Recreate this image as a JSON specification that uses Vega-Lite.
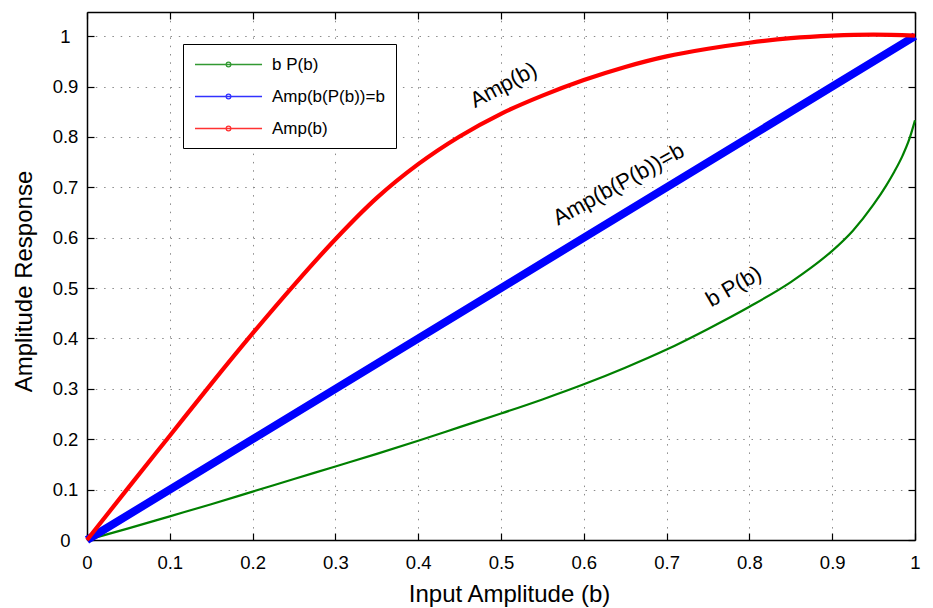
{
  "$schema": "https://vega.github.io/schema/vega-lite/v6.json",
  "width": 828,
  "height": 528,
  "autosize": {"type": "none"},
  "padding": {"left": 87, "top": 12, "right": 18, "bottom": 68},
  "background": "white",
  "config": {
    "view": {"stroke": null},
    "font": "Liberation Sans",
    "axis": {
      "labelFont": "Liberation Sans",
      "labelFontSize": 18.5,
      "labelColor": "black",
      "titleFont": "Liberation Sans",
      "titleFontSize": 24,
      "titleFontWeight": "normal",
      "titleColor": "black",
      "domainColor": "black",
      "domainWidth": 1.5,
      "tickColor": "black",
      "tickWidth": 1.2,
      "gridColor": "#8a8a8a",
      "gridDash": [1.5, 6.8],
      "gridWidth": 1
    }
  },
  "datasets": {
    "curves": [
      {"b": 0, "amp": 0, "series": "b P(b)"},
      {"b": 0.05, "amp": 0.023, "series": "b P(b)"},
      {"b": 0.1, "amp": 0.047, "series": "b P(b)"},
      {"b": 0.15, "amp": 0.071, "series": "b P(b)"},
      {"b": 0.2, "amp": 0.096, "series": "b P(b)"},
      {"b": 0.25, "amp": 0.121, "series": "b P(b)"},
      {"b": 0.3, "amp": 0.146, "series": "b P(b)"},
      {"b": 0.35, "amp": 0.171, "series": "b P(b)"},
      {"b": 0.4, "amp": 0.197, "series": "b P(b)"},
      {"b": 0.45, "amp": 0.224, "series": "b P(b)"},
      {"b": 0.5, "amp": 0.251, "series": "b P(b)"},
      {"b": 0.55, "amp": 0.279, "series": "b P(b)"},
      {"b": 0.6, "amp": 0.309, "series": "b P(b)"},
      {"b": 0.65, "amp": 0.342, "series": "b P(b)"},
      {"b": 0.7, "amp": 0.378, "series": "b P(b)"},
      {"b": 0.75, "amp": 0.419, "series": "b P(b)"},
      {"b": 0.8, "amp": 0.463, "series": "b P(b)"},
      {"b": 0.85, "amp": 0.512, "series": "b P(b)"},
      {"b": 0.875, "amp": 0.541, "series": "b P(b)"},
      {"b": 0.9, "amp": 0.574, "series": "b P(b)"},
      {"b": 0.925, "amp": 0.614, "series": "b P(b)"},
      {"b": 0.95, "amp": 0.666, "series": "b P(b)"},
      {"b": 0.965, "amp": 0.703, "series": "b P(b)"},
      {"b": 0.975, "amp": 0.731, "series": "b P(b)"},
      {"b": 0.985, "amp": 0.763, "series": "b P(b)"},
      {"b": 0.993, "amp": 0.795, "series": "b P(b)"},
      {"b": 1.0, "amp": 0.833, "series": "b P(b)"},
      {"b": 0, "amp": 0, "series": "Amp(b(P(b))=b"},
      {"b": 0.5, "amp": 0.5, "series": "Amp(b(P(b))=b"},
      {"b": 1.0, "amp": 1.0, "series": "Amp(b(P(b))=b"},
      {"b": 0, "amp": 0, "series": "Amp(b)"},
      {"b": 0.05, "amp": 0.104, "series": "Amp(b)"},
      {"b": 0.1, "amp": 0.207, "series": "Amp(b)"},
      {"b": 0.15, "amp": 0.310, "series": "Amp(b)"},
      {"b": 0.2, "amp": 0.410, "series": "Amp(b)"},
      {"b": 0.25, "amp": 0.506, "series": "Amp(b)"},
      {"b": 0.3, "amp": 0.597, "series": "Amp(b)"},
      {"b": 0.35, "amp": 0.679, "series": "Amp(b)"},
      {"b": 0.4, "amp": 0.746, "series": "Amp(b)"},
      {"b": 0.45, "amp": 0.801, "series": "Amp(b)"},
      {"b": 0.5, "amp": 0.846, "series": "Amp(b)"},
      {"b": 0.55, "amp": 0.882, "series": "Amp(b)"},
      {"b": 0.6, "amp": 0.913, "series": "Amp(b)"},
      {"b": 0.65, "amp": 0.939, "series": "Amp(b)"},
      {"b": 0.7, "amp": 0.960, "series": "Amp(b)"},
      {"b": 0.75, "amp": 0.975, "series": "Amp(b)"},
      {"b": 0.8, "amp": 0.987, "series": "Amp(b)"},
      {"b": 0.85, "amp": 0.996, "series": "Amp(b)"},
      {"b": 0.9, "amp": 1.001, "series": "Amp(b)"},
      {"b": 0.95, "amp": 1.003, "series": "Amp(b)"},
      {"b": 1.0, "amp": 1.001, "series": "Amp(b)"}
    ],
    "notes": [
      {"b": 0.503, "amp": 0.903, "label": "Amp(b)"},
      {"b": 0.642, "amp": 0.706, "label": "Amp(b(P(b))=b"},
      {"b": 0.781, "amp": 0.503, "label": "b P(b)"}
    ]
  },
  "layer": [
    {
      "data": {"name": "curves"},
      "transform": [{"filter": "datum.series === 'b P(b)'"}],
      "mark": {"type": "line", "strokeWidth": 2.2, "interpolate": "monotone", "strokeCap": "butt"},
      "encoding": {
        "x": {
          "field": "b", "type": "quantitative",
          "scale": {"domain": [0, 1], "nice": false, "zero": false},
          "axis": {
            "orient": "bottom",
            "values": [0, 0.1, 0.2, 0.3, 0.4, 0.5, 0.6, 0.7, 0.8, 0.9, 1],
            "format": "~g",
            "grid": true,
            "tickSize": -7,
            "labelPadding": 20,
            "labelBaseline": "top",
            "labelFlush": false,
            "labelOverlap": false,
            "title": "Input Amplitude (b)",
            "titleX": 422,
            "titleY": 61,
            "titleBaseline": "alphabetic",
            "titleAlign": "center"
          }
        },
        "y": {
          "field": "amp", "type": "quantitative",
          "scale": {"domain": [0, 1.048], "nice": false, "zero": false},
          "axis": {
            "orient": "left",
            "values": [0, 0.1, 0.2, 0.3, 0.4, 0.5, 0.6, 0.7, 0.8, 0.9, 1],
            "format": "~g",
            "grid": true,
            "tickSize": -7,
            "labelPadding": 29,
            "labelAlign": "center",
            "labelBaseline": "middle",
            "labelFlush": false,
            "labelOverlap": false,
            "title": "Amplitude Response",
            "titleAngle": -90,
            "titleX": -63,
            "titleY": 269,
            "titleAlign": "center",
            "titleBaseline": "middle"
          }
        },
        "color": {
          "field": "series", "type": "nominal",
          "sort": ["b P(b)", "Amp(b(P(b))=b", "Amp(b)"],
          "scale": {"domain": ["b P(b)", "Amp(b(P(b))=b", "Amp(b)"], "range": ["#008000", "#0000ff", "#ff0000"]},
          "legend": {
            "orient": "none",
            "legendX": 96,
            "legendY": 32,
            "title": null,
            "fillColor": "white",
            "strokeColor": "black",
            "padding": 11,
            "symbolType": "M-4,0H4M0.28,0A0.28,0.28,0,1,1,-0.28,0A0.28,0.28,0,1,1,0.28,0",
            "symbolSize": 281,
            "symbolOffset": 25,
            "symbolStrokeWidth": 1.3,
            "symbolOpacity": 0.8,
            "labelOffset": 34,
            "labelFont": "Liberation Sans",
            "labelFontSize": 17,
            "labelColor": "black",
            "labelLimit": 0,
            "rowPadding": 14,
            "labelExpr": "datum.label == 'Amp(b)' ? '\u00a0Amp(b)' : datum.label"
          }
        }
      }
    },
    {
      "data": {"name": "curves"},
      "transform": [{"filter": "datum.series === 'Amp(b(P(b))=b'"}],
      "mark": {"type": "line", "strokeWidth": 8, "strokeCap": "butt"},
      "encoding": {
        "x": {"field": "b", "type": "quantitative", "axis": null},
        "y": {"field": "amp", "type": "quantitative", "axis": null},
        "color": {"field": "series", "type": "nominal"}
      }
    },
    {
      "data": {"name": "curves"},
      "transform": [{"filter": "datum.series === 'Amp(b)'"}],
      "mark": {"type": "line", "strokeWidth": 4.2, "interpolate": "monotone", "strokeCap": "butt"},
      "encoding": {
        "x": {"field": "b", "type": "quantitative", "axis": null},
        "y": {"field": "amp", "type": "quantitative", "axis": null},
        "color": {"field": "series", "type": "nominal"}
      }
    },
    {
      "data": {"name": "notes"},
      "mark": {"type": "text", "font": "Liberation Sans", "fontSize": 22, "color": "black", "align": "center", "baseline": "middle"},
      "encoding": {
        "x": {
          "field": "b", "type": "quantitative",
          "axis": {
            "orient": "top",
            "values": [0, 0.1, 0.2, 0.3, 0.4, 0.5, 0.6, 0.7, 0.8, 0.9, 1],
            "labels": false,
            "grid": false,
            "tickSize": -7,
            "title": null
          }
        },
        "y": {
          "field": "amp", "type": "quantitative",
          "axis": {
            "orient": "right",
            "values": [0, 0.1, 0.2, 0.3, 0.4, 0.5, 0.6, 0.7, 0.8, 0.9, 1],
            "labels": false,
            "grid": false,
            "tickSize": -7,
            "title": null
          }
        },
        "text": {"field": "label", "type": "nominal"},
        "angle": {
          "field": "label", "type": "nominal",
          "scale": {"domain": ["Amp(b)", "Amp(b(P(b))=b", "b P(b)"], "range": [332, 330, 329]},
          "legend": null
        }
      }
    }
  ],
  "resolve": {"axis": {"x": "independent", "y": "independent"}}
}
